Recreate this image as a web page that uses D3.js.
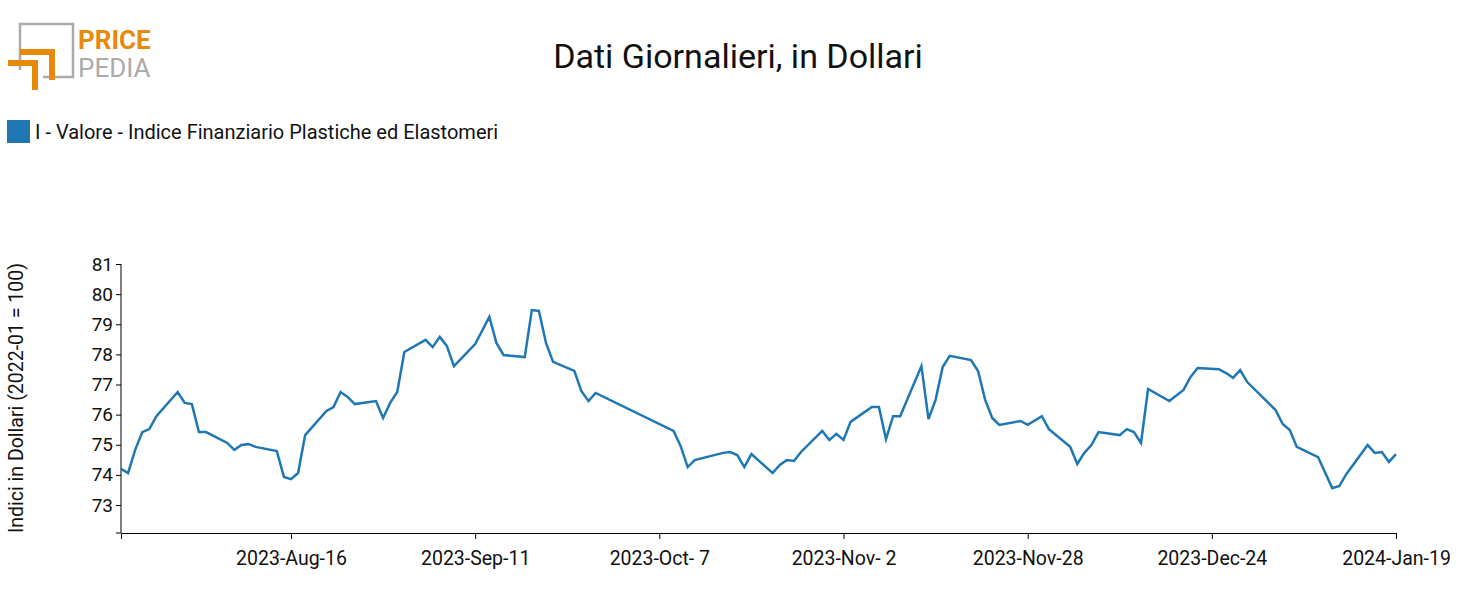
<!DOCTYPE html>
<html><head><meta charset="utf-8">
<script src="https://cdn.jsdelivr.net/npm/d3@7"></script>
<style>body{margin:0;background:#fff}text{font-family:Roboto,sans-serif}</style>
</head><body><svg id="c" width="1477" height="615"></svg>
<script>
const startDate = "2023-07-23";
const dayOffsets = [0,1,2,3,4,5,8,9,10,11,12,15,16,17,18,19,22,23,24,25,26,29,30,31,32,33,36,37,38,39,40,43,44,45,46,47,50,52,53,54,57,58,59,60,61,64,65,66,67,78,79,80,81,85,86,87,88,89,92,93,94,95,96,99,100,101,102,103,106,107,108,109,110,113,114,115,116,117,120,121,122,123,124,127,128,130,131,134,135,136,137,138,141,142,143,144,145,148,150,151,152,155,156,157,158,159,163,164,165,166,169,171,172,173,176,177,178,179,180];
const values = [74.20,74.06,74.83,75.42,75.52,75.95,76.75,76.39,76.35,75.42,75.42,75.06,74.83,74.99,75.02,74.93,74.79,73.93,73.86,74.06,75.32,76.12,76.25,76.75,76.59,76.35,76.45,75.89,76.39,76.75,78.08,78.48,78.24,78.58,78.28,77.61,78.34,79.24,78.38,77.98,77.91,79.47,79.44,78.38,77.75,77.45,76.78,76.45,76.72,75.46,74.96,74.26,74.49,74.73,74.76,74.66,74.26,74.69,74.06,74.33,74.49,74.46,74.76,75.46,75.16,75.36,75.16,75.76,76.25,76.25,75.19,75.95,75.95,77.61,75.85,76.49,77.58,77.95,77.81,77.45,76.49,75.89,75.66,75.79,75.66,75.95,75.52,74.93,74.36,74.73,74.99,75.42,75.32,75.52,75.42,75.06,76.85,76.45,76.82,77.25,77.55,77.51,77.38,77.22,77.48,77.08,76.15,75.69,75.49,74.93,74.59,73.56,73.63,74.03,74.99,74.73,74.76,74.43,74.69];
const xTickDates = ["2023-08-16","2023-09-11","2023-10-07","2023-11-02","2023-11-28","2023-12-24","2024-01-19"];
const yTicks = [73,74,75,76,77,78,79,80,81];

const parse = d3.timeParse("%Y-%m-%d");
const s0 = parse(startDate);
const data = dayOffsets.map((o,i)=>({d:d3.timeDay.offset(s0,o),v:values[i]}));
const svg = d3.select("#c");
const x = d3.scaleTime().domain([s0, parse("2024-01-19")]).range([121,1396]);
const y = d3.scaleLinear().domain([73,81]).range([505,264]);
const yBottom = 533;

svg.append("text").attr("x",738).attr("y",68).attr("text-anchor","middle").attr("font-size",34).attr("fill","#111").text("Dati Giornalieri, in Dollari");
svg.append("rect").attr("x",7).attr("y",120).attr("width",23).attr("height",23).attr("fill","#1f77b4");
svg.append("text").attr("x",35).attr("y",139).attr("font-size",20).attr("fill","#111").text("I - Valore - Indice Finanziario Plastiche ed Elastomeri");

const fmt = d3.timeFormat("%Y-%b-%e");
const xa = svg.append("g").attr("transform",`translate(0,${yBottom})`)
 .call(d3.axisBottom(x).tickValues(xTickDates.map(parse)).tickFormat(fmt).tickSizeOuter(6));
xa.selectAll("text").attr("font-size",19.5).attr("fill","#111").attr("dy","1.2em");
const ya = svg.append("g").attr("transform","translate(121,0)")
 .call(d3.axisLeft(y).tickValues(yTicks).tickSize(5).tickSizeOuter(0));
ya.select(".domain").attr("d",`M0,264V${yBottom}`);
ya.selectAll("text").attr("font-size",19).attr("fill","#111");
svg.append("line").attr("x1",116).attr("x2",121).attr("y1",yBottom).attr("y2",yBottom).attr("stroke","#000");
svg.append("text").attr("transform","translate(23,398) rotate(-90)").attr("text-anchor","middle").attr("font-size",19.5).attr("fill","#111").text("Indici in Dollari (2022-01 = 100)");

svg.append("path").datum(data).attr("fill","none").attr("stroke","#1f77b4").attr("stroke-width",2.5)
 .attr("d",d3.line().x(d=>x(d.d)).y(d=>y(d.v)));

// logo
const lg = svg.append("g");
lg.append("path").attr("d","M20,70 V24 H73 V77 H43").attr("fill","none").attr("stroke","#aaa").attr("stroke-width",2.5);
lg.append("path").attr("d","M8,63 H35 V90").attr("fill","none").attr("stroke","#e8890c").attr("stroke-width",6);
lg.append("path").attr("d","M20,52 H52 V80").attr("fill","none").attr("stroke","#e8890c").attr("stroke-width",6);
lg.append("text").attr("x",78).attr("y",49).attr("font-size",26).attr("font-weight","bold").attr("fill","#e8890c").text("PRICE");
lg.append("text").attr("x",78).attr("y",77).attr("font-size",26).attr("fill","#aaa").text("PEDIA");
</script></body></html>
